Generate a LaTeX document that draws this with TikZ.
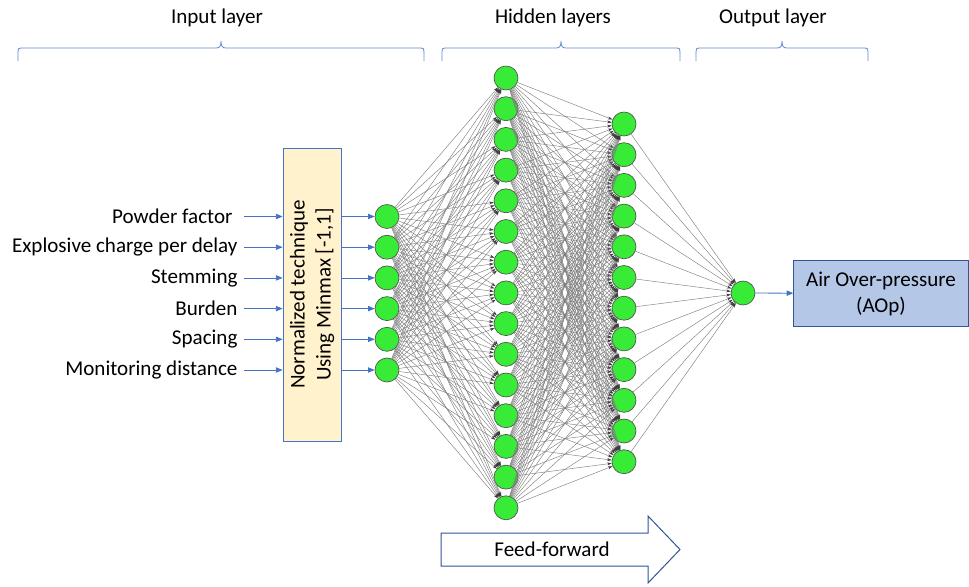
\documentclass[tikz,border=0pt]{standalone}
\usepackage{fontspec}
\setmainfont{Carlito}
\usetikzlibrary{arrows.meta}

\tikzset{every picture/.style={line width=0.75pt}}
\tikzset{
  txt/.style={font=\fontsize{15.8}{19.5}\selectfont, inner sep=0pt},
  neuron/.style={circle, draw={rgb, 255:red, 80; green, 80; blue, 80}, line width=0.5pt,
    fill={rgb, 255:red, 55; green, 235; blue, 55}, minimum size=18pt, inner sep=0pt},
  link/.style={draw={rgb, 255:red, 125; green, 125; blue, 125}, line width=0.33pt,
    -{Stealth[length=3.5pt, width=2.2pt, color={rgb, 255:red, 60; green, 60; blue, 60}]}},
  feed/.style={draw={rgb, 255:red, 68; green, 114; blue, 196}, line width=0.6pt,
    -{Triangle[length=5pt, width=4pt, color={rgb, 255:red, 68; green, 114; blue, 196}]}},
  bracket/.style={draw={rgb, 255:red, 95; green, 135; blue, 205}, line width=0.6pt},
  normbox/.style={draw={rgb, 255:red, 68; green, 114; blue, 196}, line width=0.6pt,
    fill={rgb, 255:red, 255; green, 242; blue, 204}, minimum width=219.75pt, minimum height=43.5pt,
    align=center, font=\fontsize{15.8}{19.5}\selectfont},
  outbox/.style={draw={rgb, 255:red, 47; green, 85; blue, 151}, line width=0.6pt,
    fill={rgb, 255:red, 180; green, 199; blue, 231}, minimum width=131pt, minimum height=50pt,
    align=center, font=\fontsize{15.8}{19.5}\selectfont},
  ffarrow/.style={draw={rgb, 255:red, 47; green, 85; blue, 151}, line width=0.75pt, fill=white},
}

% curly bracket over a layer: left x, tip x, right x
\newcommand{\layerbrace}[3]{%
  \draw[bracket] (#1,61) -- (#1,52) .. controls (#1,49) and (#1,48) .. (#1+4,48) -- (#2-5,48)
    .. controls (#2-1,48) and (#2,46) .. (#2,41) .. controls (#2,46) and (#2+1,48) .. (#2+5,48)
    -- (#3-4,48) .. controls (#3,48) and (#3,49) .. (#3,52) -- (#3,61);}

\begin{document}
\begin{tikzpicture}[x=0.75pt,y=0.75pt,yscale=-1,xscale=1]
\useasboundingbox (0,0) rectangle (969,586);

% Text Node
\node[txt] (tin) at (217,18) {Input layer};
% Text Node
\node[txt] (thid) at (553,18) {Hidden layers};
% Text Node
\node[txt] (tout) at (773,18) {Output layer};

%Brackets
\layerbrace{18}{221}{424}
\layerbrace{442}{561}{680}
\layerbrace{696}{782}{868}

% Input labels
\node[txt, anchor=east] (l1) at (233,216.5) {Powder factor};
\node[txt, anchor=east] (l2) at (238,247.2) {Explosive charge per delay};
\node[txt, anchor=east] (l3) at (238,277.9) {Stemming};
\node[txt, anchor=east] (l4) at (238,308.6) {Burden};
\node[txt, anchor=east] (l5) at (238,339.3) {Spacing};
\node[txt, anchor=east] (l6) at (238,370) {Monitoring distance};

%Shape: Rectangle (normalisation)
\node[normbox, rotate=90] (norm) at (312,294.5) {Normalized technique\\Using Minmax [-1,1]};

% Neurons
\foreach \k in {1,...,6} \node[neuron] (a\k) at (387,{216.5+30.7*(\k-1)}) {};
\foreach \k in {1,...,15} \node[neuron] (b\k) at (506,{78+30.7*(\k-1)}) {};
\foreach \k in {1,...,12} \node[neuron] (c\k) at (624,{124+30.7*(\k-1)}) {};
\node[neuron] (o) at (743,293) {};

% Connections
\foreach \i in {1,...,6} \foreach \j in {1,...,15} \draw[link] (a\i) -- (b\j);
\foreach \i in {1,...,15} \foreach \j in {1,...,12} \draw[link] (b\i) -- (c\j);
\foreach \i in {1,...,12} \draw[link] (c\i) -- (o);

% Input arrows
\foreach \k in {1,...,6} {
  \draw[feed] (l\k.east -| 244,0) -- (l\k.east -| norm.north);
  \draw[feed] (a\k -| norm.south) -- (a\k);
}

%Shape: Rectangle (output)
\node[outbox] (aop) at (881,293.5) {Air Over-pressure\\(AOp)};
\draw[feed] (o) -- (aop);

%Shape: Right Arrow
\draw[ffarrow] (441,533) -- (648,533) -- (648,516) -- (680,549.5) -- (648,583) -- (648,566) -- (441,566) -- cycle;
% Text Node
\node[txt] (ff) at (552,549) {Feed-forward};

\end{tikzpicture}
\end{document}
